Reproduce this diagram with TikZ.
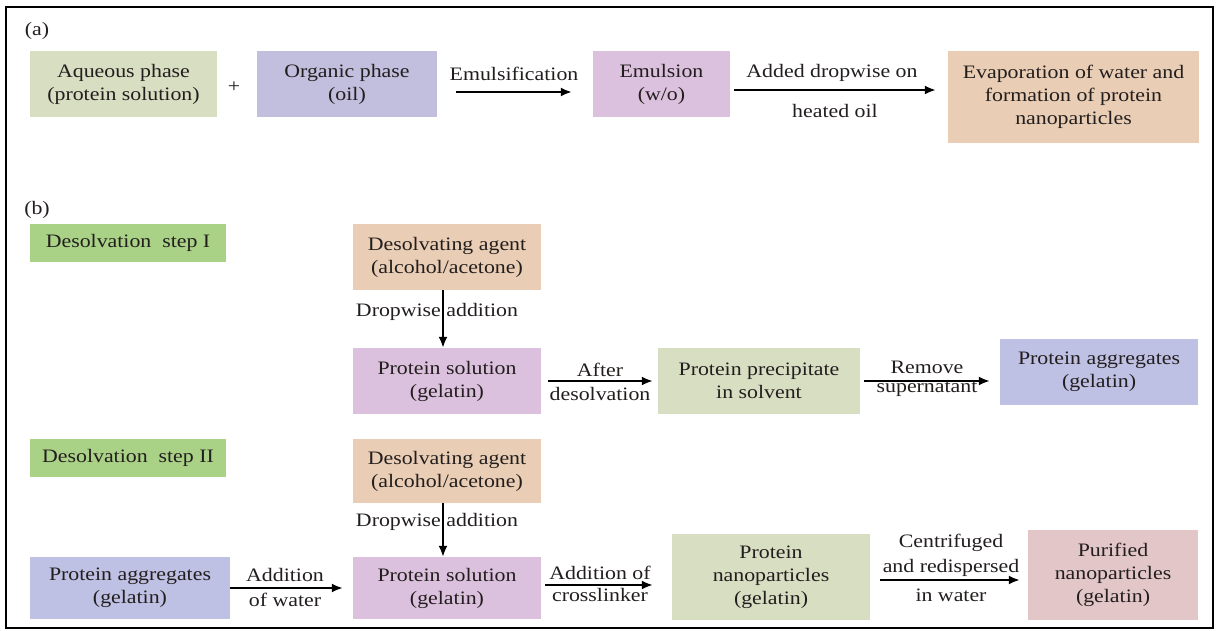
\documentclass[tikz,border=0pt]{standalone}
\usepackage{fontspec}
\setmainfont[FakeStretch=1.15]{Liberation Serif}
\usetikzlibrary{arrows.meta,calc}
\definecolor{cAq}{RGB}{216,222,194}
\definecolor{cOrg}{RGB}{193,190,222}
\definecolor{cEm}{RGB}{220,193,222}
\definecolor{cTan}{RGB}{233,205,180}
\definecolor{cStep}{RGB}{170,210,135}
\definecolor{cAgg}{RGB}{190,192,228}
\definecolor{cPur}{RGB}{226,198,200}
\definecolor{cTxt}{RGB}{35,30,30}
\tikzset{
  box/.style={inner sep=0pt, align=center, text=cTxt, font=\fontsize{19}{23}\selectfont},
  lbl/.style={inner sep=0pt, align=center, text=cTxt, font=\fontsize{19}{23}\selectfont},
  arr/.style={line width=2pt, -{Latex[length=11pt,width=9pt]}},
}
\begin{document}
\begin{tikzpicture}[x=1pt,y=-1pt]
\useasboundingbox (0,0) rectangle (1219,631);
\fill[white] (0,0) rectangle (1219,631);
\draw[line width=2.2pt] (6,7) rectangle (1213,628);

% (a)
\node[lbl] (la) at (37,31) {(a)};
\node[box, fill=cAq, minimum width=187pt, minimum height=66pt] (aq) at (123.5,84) {Aqueous phase\\(protein solution)};
\node[lbl] (plus) at (234,87) {+};
\node[box, fill=cOrg, minimum width=180pt, minimum height=66pt] (org) at (347,84) {Organic phase\\(oil)};
\node[box, fill=cEm, minimum width=137pt, minimum height=66pt] (emul) at (661.5,84) {Emulsion\\(w/o)};
\node[box, fill=cTan, minimum width=251pt, minimum height=92pt] (evap) at (1073.5,97) {Evaporation of water and\\formation of protein\\nanoparticles};
\draw[arr, shorten <=19pt, shorten >=21pt] ([yshift=-8pt]org.east) -- ([yshift=-8pt]emul.west);
\node[lbl] (l1) at (514,74) {Emulsification};
\draw[arr, shorten <=4pt, shorten >=12pt] ([yshift=-6pt]emul.east) -- ([yshift=-6pt]emul.east -| evap.west);
\node[lbl] (l2) at (832,73) {Added dropwise on};
\node[lbl] (l3) at (835,111) {heated oil};

% (b)
\node[lbl] (lb) at (37,210) {(b)};
\node[box, fill=cStep, minimum width=196pt, minimum height=38pt] (s1) at (128,243) {Desolvation\ \ step I};
\node[box, fill=cTan, minimum width=188pt, minimum height=66pt] (ag1) at (447,257) {Desolvating agent\\(alcohol/acetone)};
\node[box, fill=cEm, minimum width=188pt, minimum height=66pt] (ps1) at (447,381) {Protein solution\\(gelatin)};
\node[box, fill=cAq, minimum width=202pt, minimum height=66pt] (pp) at (759,381) {Protein precipitate\\in solvent};
\node[box, fill=cAgg, minimum width=198pt, minimum height=66pt] (agg1) at (1099,372) {Protein aggregates\\(gelatin)};
\draw[arr] ([xshift=-4pt]ag1.south) -- ([xshift=-4pt]ps1.north);
\node[lbl] (d1) at (437,312) {Dropwise addition};
\draw[arr, shorten <=7pt, shorten >=5pt] (ps1.east) -- (ps1.east -| pp.west);
\node[lbl] (l4) at (600,370) {After};
\node[lbl] (l5) at (600,394) {desolvation};
\draw[arr, shorten <=4pt, shorten >=10pt] (pp.east) -- (pp.east -| agg1.west);
\node[lbl] (l6) at (927,367) {Remove};
\node[lbl] (l7) at (927,389) {supernatant};

\node[box, fill=cStep, minimum width=196pt, minimum height=38pt] (s2) at (128,458) {Desolvation\ \ step II};
\node[box, fill=cTan, minimum width=188pt, minimum height=64pt] (ag2) at (447,471) {Desolvating agent\\(alcohol/acetone)};
\node[box, fill=cAgg, minimum width=200pt, minimum height=62pt] (agg2) at (130,588) {Protein aggregates\\(gelatin)};
\node[box, fill=cEm, minimum width=188pt, minimum height=62pt] (ps2) at (447,588) {Protein solution\\(gelatin)};
\node[box, fill=cAq, minimum width=198pt, minimum height=86pt] (nano) at (771,577) {Protein\\nanoparticles\\(gelatin)};
\node[box, fill=cPur, minimum width=170pt, minimum height=90pt] (pur) at (1113,575) {Purified\\nanoparticles\\(gelatin)};
\draw[arr] ([xshift=-4pt]ag2.south) -- ([xshift=-4pt]ps2.north);
\node[lbl] (d2) at (437,522) {Dropwise addition};
\draw[arr, shorten >=10pt] (agg2.east) -- (agg2.east -| ps2.west);
\node[lbl] (l8) at (285,575) {Addition};
\node[lbl] (l9) at (285,600) {of water};
\draw[arr, shorten <=4pt, shorten >=19pt] ([yshift=3pt]ps2.east) -- ([yshift=3pt]ps2.east -| nano.west);
\node[lbl] (l10) at (600,573) {Addition of};
\node[lbl] (l11) at (600,595) {crosslinker};
\draw[arr, shorten <=10pt, shorten >=8pt] ([yshift=-3pt]nano.east) -- ([yshift=-3pt]nano.east -| pur.west);
\node[lbl] (l12) at (951,543) {Centrifuged};
\node[lbl] (l13) at (951,568) {and redispersed};
\node[lbl] (l14) at (951,595) {in water};
\end{tikzpicture}
\end{document}
